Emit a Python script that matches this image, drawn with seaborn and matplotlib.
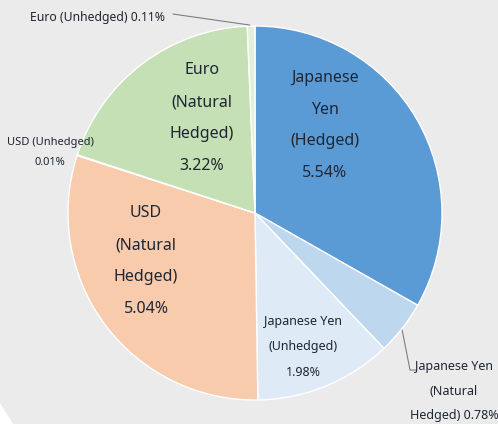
import matplotlib
matplotlib.use("Agg")
import matplotlib.pyplot as plt
from matplotlib.patches import Polygon
import seaborn as sns

# slices, clockwise from 12 o'clock
names = ["Japanese Yen (Hedged)", "Japanese Yen (Natural Hedged)",
         "Japanese Yen (Unhedged)", "USD (Natural Hedged)", "USD (Unhedged)",
         "Euro (Natural Hedged)", "Euro (Unhedged)"]
shares = [5.54, 0.78, 1.98, 5.04, 0.01, 3.22, 0.11]
colors = ["#5b9bd5", "#bdd7ee", "#deebf7", "#f8cbad", "#fbe5d6",
          "#c5e0b4", "#e2f0d9"]

BG = "#ebebeb"
TXT = "#1f2633"
LEADER = "#7f7f7f"

sns.set_style("white")
plt.rcParams["font.family"] = ["Noto Sans", "DejaVu Sans"]

fig = plt.figure(figsize=(4.98, 4.24), dpi=100, facecolor=BG)
ax = fig.add_axes([68 / 498, 24 / 424, 374 / 498, 374 / 424])
ax.set_facecolor(BG)

ax.pie(shares, colors=colors, startangle=90, counterclock=False, radius=1,
       wedgeprops=dict(edgecolor="white", linewidth=1))
ax.set_xlim(-1, 1)
ax.set_ylim(-1, 1)
ax.set_aspect("equal")
ax.axis("off")

# inside labels
big = [
    ("Japanese\nYen\n(Hedged)\n5.54%", 0.374, 0.468),
    ("Euro\n(Natural\nHedged)\n3.22%", -0.283, 0.508),
    ("USD\n(Natural\nHedged)\n5.04%", -0.583, -0.257),
]
for txt, x, y in big:
    ax.text(x, y, txt, ha="center", va="center", fontsize=11.5, color=TXT,
            linespacing=2.33)

ax.text(0.257, -0.715, "Japanese Yen\n(Unhedged)\n1.98%", ha="center",
        va="center", fontsize=9, color=TXT, linespacing=2.26)

# outside labels
ax.text(1.064, -0.952, "Japanese Yen\n(Natural\nHedged) 0.78%", ha="center",
        va="center", fontsize=9, color=TXT, linespacing=2.16, clip_on=False)
ax.plot([0.787, 0.829, 0.861], [-0.626, -0.840, -0.840], color=LEADER,
        lw=0.8, clip_on=False)

ax.text(-0.842, 1.048, "Euro (Unhedged) 0.11%", ha="center", va="center",
        fontsize=8.8, color=TXT, clip_on=False)
ax.plot([-0.439, -0.027], [1.064, 1.005], color=LEADER, lw=0.8,
        clip_on=False)

ax.text(-1.096, 0.324, "USD (Unhedged)\n0.01%", ha="center", va="center",
        fontsize=8, color=TXT, linespacing=2.2, clip_on=False)

# white corner of the screenshot
fig.patches.append(Polygon([[0, 0], [0, 21 / 424], [13 / 498, 0]],
                           closed=True, transform=fig.transFigure,
                           facecolor="white", edgecolor="none"))

fig.savefig("out.png", dpi=100, facecolor=BG)
